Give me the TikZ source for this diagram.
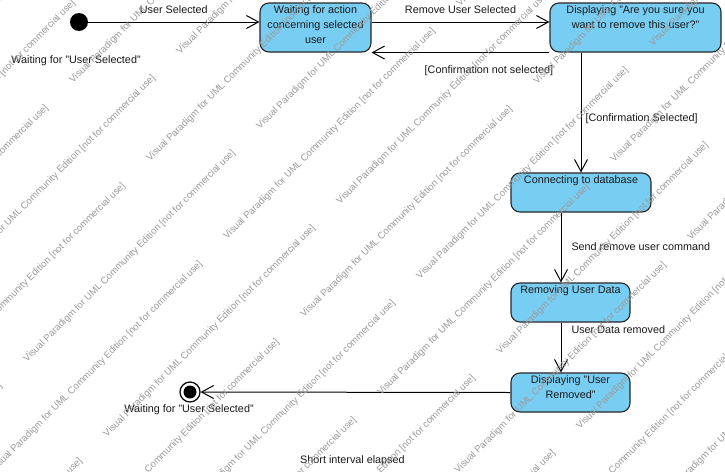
\documentclass[tikz,border=0pt]{standalone}
\usepackage{fontspec}
\setmainfont{Liberation Sans}
\usetikzlibrary{arrows.meta}
\definecolor{statefill}{RGB}{120,205,242}
\definecolor{wmgray}{RGB}{155,155,155}
\begin{document}
\begin{tikzpicture}[x=1pt,y=-1pt,
  every node/.style={font=\fontsize{10.8}{15}\selectfont, text=black!90},
  statebox/.style={draw=black!85, line width=1.1pt, fill=statefill, rounded corners=9pt, inner sep=0pt},
  boxtext/.style={anchor=north, align=center, inner sep=0pt},
  trans/.style={draw=black, line width=1pt, -{Straight Barb[length=12pt,width=13pt,line width=1pt]}},
  elabel/.style={inner sep=0pt},
  wm/.style={font=\fontsize{9.6}{10}\selectfont, text=wmgray, anchor=base west, rotate=45, inner sep=0pt}
]
\useasboundingbox (0,0) rectangle (725,471);
\fill[white] (0,0) rectangle (725,471);

% initial and final pseudo-states
\node[circle, fill=black, minimum size=18pt, inner sep=0pt] (init) at (79,22) {};
\node (initname) at (76,61) {Waiting for "User Selected"};

\node[circle, draw=black, line width=1.2pt, fill=white, minimum size=20pt, inner sep=0pt] (fin) at (190,392) {};
\fill[black] (fin.center) circle (6.5);
\node (finname) at (189,410) {Waiting for "User Selected"};

% states
\node[statebox, minimum width=111pt, minimum height=49pt] (s1) at (315.5,27.5) {};
\node[boxtext] (s1t) at ([yshift=-3.5pt]s1.north) {Waiting for action\\concerning selected\\user};

\node[statebox, minimum width=171pt, minimum height=49pt] (s2) at (635.5,27.5) {};
\node[boxtext] (s2t) at ([yshift=-3.5pt]s2.north) {Displaying "Are you sure you\\want to remove this user?"};

\node[statebox, minimum width=140pt, minimum height=39pt] (s3) at (581,192.5) {};
\node[boxtext] (s3t) at ([yshift=-3.5pt]s3.north) {Connecting to database};

\node[statebox, minimum width=119pt, minimum height=39pt] (s4) at (570.5,302.5) {};
\node[boxtext] (s4t) at ([yshift=-3.5pt]s4.north) {Removing User Data};

\node[statebox, minimum width=119pt, minimum height=39pt] (s5) at (570.5,392.5) {};
\node[boxtext] (s5t) at ([yshift=-3.5pt]s5.north) {Displaying "User\\Removed"};

% transitions
\coordinate (p1) at ([yshift=5.5pt]s1.east);
\coordinate (p2) at ([yshift=5.5pt]s2.west);
\coordinate (p3) at ([xshift=-20pt]s3.south);
\coordinate (p4) at ([xshift=-9.5pt]s4.south);

\draw[trans] (init) -- (init -| s1.west)
  node[elabel, midway, yshift=12pt] {User Selected};
\draw[trans] (p1) -- (p2)
  node[elabel, midway, yshift=12pt] {Remove User Selected};
\draw[trans] (s2.south west) -- (s1.south east)
  node[elabel, pos=0.34, yshift=-18pt] {[Confirmation not selected]};
\draw[trans] (s2.south -| s3.north) -- (s3.north)
  node[elabel, pos=0.554, anchor=west, xshift=4pt] {[Confirmation Selected]};
\draw[trans] (p3) -- (p3 |- s4.north)
  node[elabel, pos=0.49, anchor=west, xshift=10pt] {Send remove user command};
\draw[trans] (p4) -- (p4 |- s5.north)
  node[elabel, pos=0.14, anchor=west, xshift=10pt] {User Data removed};
\draw[trans] (s5.west) -- (fin)
  node[elabel, pos=0.51, yshift=-68pt] {Short interval elapsed};

% edition watermark, tiled along diagonal rows; only copies that reach the page
\begin{scope}
\clip (0,0) rectangle (725,471);
\foreach \k in {-3,...,14}{
  \pgfmathtruncatemacro\kodd{mod(\k+20,2)}
  \pgfmathsetmacro\wmc{157+77.5*\k}
  \ifnum\kodd=1
    \pgfmathsetmacro\wms{180+40*(\k-1)}
  \else
    \pgfmathsetmacro\wms{73+38.5*\k}
  \fi
  \foreach \n in {-6,...,4}{
    \pgfmathsetmacro\xx{\wms+233*\n}
    \pgfmathtruncatemacro\vis{and(and(\xx>-225,\xx<730),and(\wmc-\xx>-5,\wmc-\xx<695))}
    \ifnum\vis=1
      \node[wm] at (\xx,\wmc-\xx) {Visual Paradigm for UML Community Edition [not for commercial use]};
    \fi
  }
}
\end{scope}
\end{tikzpicture}
\end{document}
